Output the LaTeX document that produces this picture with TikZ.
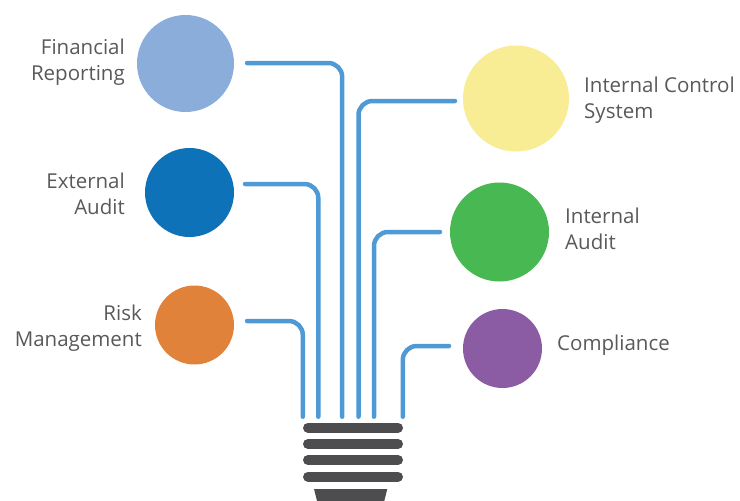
\documentclass[tikz,border=0pt]{standalone}
\usepackage{fontspec}
\setmainfont{Open Sans}
\newlength{\du}
\setlength{\du}{1pt}
\definecolor{wirecolor}{RGB}{79,154,213}
\definecolor{basecolor}{RGB}{77,77,79}
\definecolor{textcolor}{RGB}{88,89,91}
\definecolor{finrepcolor}{RGB}{138,173,218}
\definecolor{extauditcolor}{RGB}{14,114,184}
\definecolor{riskcolor}{RGB}{224,130,58}
\definecolor{intctrlcolor}{RGB}{248,236,148}
\definecolor{intauditcolor}{RGB}{72,184,82}
\definecolor{compliancecolor}{RGB}{139,91,163}
\tikzset{
  topic/.style={circle, inner sep=0pt, minimum size=#1\du},
  tag/.style={text=textcolor, inner sep=0pt, font=\fontsize{20.5}{26}\selectfont},
  wire/.style={draw=wirecolor, line width=4.5\du, line cap=round, rounded corners=14\du},
  socket/.style={draw=basecolor, line width=10\du, line cap=round},
}

\begin{document}
\begin{tikzpicture}
\pgftransformxscale{1.000000}
\pgftransformyscale{-1.000000}
\useasboundingbox (0\du,0\du) rectangle (740\du,501\du);
% circles
\node[topic=97, fill=finrepcolor] (finrep) at (185.5\du,63.5\du) {};
\node[topic=89, fill=extauditcolor] (extaudit) at (189.5\du,192.5\du) {};
\node[topic=79, fill=riskcolor] (risk) at (194.5\du,325\du) {};
\node[topic=106, fill=intctrlcolor] (intctrl) at (516\du,98.5\du) {};
\node[topic=99, fill=intauditcolor] (intaudit) at (499.5\du,232\du) {};
\node[topic=79, fill=compliancecolor] (compliance) at (502.5\du,348.5\du) {};
% texts
\node[tag, anchor=east, align=right] (finrep-t) at (125\du,62\du) {Financial\\Reporting};
\node[tag, anchor=east, align=right] (extaudit-t) at (125\du,193.5\du) {External\\Audit};
\node[tag, anchor=east, align=right] (risk-t) at (142\du,328.4\du) {Risk\\Management};
\node[tag, anchor=west, align=left] (intctrl-t) at (584\du,100.5\du) {Internal Control\\System};
\node[tag, anchor=west, align=left] (intaudit-t) at (565\du,228.4\du) {Internal\\Audit};
\node[tag, anchor=base west] (compliance-t) at (557\du,350\du) {Compliance};
% wire ends
\coordinate (finrep-w) at (247\du,63\du);
\coordinate (extaudit-w) at (245\du,184\du);
\coordinate (risk-w) at (247\du,321\du);
\coordinate (intctrl-w) at (455\du,101\du);
\coordinate (intaudit-w) at (440\du,232\du);
\coordinate (compliance-w) at (449\du,346\du);
\coordinate (risk-b) at (302.8\du,416.7\du);
\coordinate (extaudit-b) at (318.3\du,416.7\du);
\coordinate (finrep-b) at (342.2\du,416.7\du);
\coordinate (intctrl-b) at (358.5\du,416.7\du);
\coordinate (intaudit-b) at (374\du,416.7\du);
\coordinate (compliance-b) at (402.8\du,416.7\du);
% wires
\foreach \n in {finrep,extaudit,risk,intctrl,intaudit,compliance}
  \draw[wire] (\n-w) -| (\n-b);
% socket
\foreach \y [count=\i] in {427.7,444,460,476.7}{
  \coordinate (ring\i-l) at (308\du,\y\du);
  \coordinate (ring\i-r) at (398\du,\y\du);
  \draw[socket] (ring\i-l) -- (ring\i-r);
}
\fill[basecolor] (314\du,489\du)--(387.3\du,489\du)--(384.3\du,501\du)--(317\du,501\du)--cycle;
\end{tikzpicture}
\end{document}
